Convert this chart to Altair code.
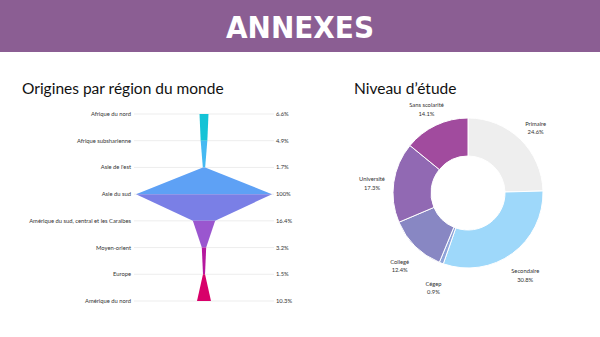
import altair as alt
import pandas as pd

# ---------------- data ----------------
regions = ["Afrique du nord", "Afrique subsharienne", "Asie de l'est", "Asie du sud",
           "Amérique du sud, central et les Caraibes", "Moyen-orient", "Europe",
           "Amérique du nord"]
region_pct = [6.6, 4.9, 1.7, 100, 16.4, 3.2, 1.5, 10.3]
region_pct_labels = ["6.6%", "4.9%", "1.7%", "100%", "16.4%", "3.2%", "1.5%", "10.3%"]
funnel_colors = ["#14C3D6", "#45B9F2", "#5EA1F5", "#7A7FE6", "#9A56CF", "#B5179E", "#D8006A"]

levels = ["Primaire", "Secondaire", "Cégep", "Collegé", "Université", "Sans scolarité"]
level_pct = [24.6, 30.8, 0.9, 12.4, 17.3, 14.1]
level_colors = ["#EEEEEE", "#9ED8FA", "#8EA3D9", "#8887C3", "#9169B3", "#A14B9E"]

# ---------------- tables ----------------
rows = pd.DataFrame({
    "idx": list(range(len(regions))),
    "region": regions,
    "pct": region_pct,
    "label": region_pct_labels,
})

seg_rows = []
for i in range(len(regions) - 1):
    for j in (i, i + 1):
        half = region_pct[j] / 100
        seg_rows.append({"seg": f"s{i}", "y": j, "lo": -half, "hi": half})
segs = pd.DataFrame(seg_rows)

donut = pd.DataFrame({
    "level": levels,
    "pct": level_pct,
    "order": list(range(len(levels))),
    "text": [f"{l}\n{p}%" for l, p in zip(levels, level_pct)],
})

FONT = "Lato"
LBL = 5.8
xs = alt.Scale(domain=[-1, 1], range=[136, 272])
ys = alt.Scale(domain=[0, 7], range=[114, 301])

# header
header = alt.Chart(pd.DataFrame({"t": ["ANNEXES"]})).mark_rect(color="#8B5E93").encode(
    x=alt.value(0), x2=alt.value(600), y=alt.value(0), y2=alt.value(52))
header_txt = alt.Chart(pd.DataFrame({"t": ["ANNEXES"]})).mark_text(
    font="DejaVu Sans Condensed", fontWeight="bold", fontSize=31, color="white",
    align="center", baseline="alphabetic").encode(
    x=alt.value(300), y=alt.value(38), text="t:N")

titles = alt.Chart(pd.DataFrame({
    "t": ["Origines par région du monde", "Niveau d\u2019étude"],
    "px": [22, 354]})).mark_text(
    font=FONT, fontSize=15.5, color="#111111", align="left", baseline="alphabetic").encode(
    x=alt.X("px:Q", scale=None), y=alt.value(94), text="t:N")

# funnel
grid = alt.Chart(rows).mark_rule(color="#EDEDED", strokeWidth=1).encode(
    x=alt.value(134), x2=alt.value(274),
    y=alt.Y("idx:Q", scale=ys, axis=None))

area = alt.Chart(segs).mark_area(orient="horizontal", opacity=1).encode(
    y=alt.Y("y:Q", scale=ys, axis=None),
    x=alt.X("lo:Q", scale=xs, axis=None),
    x2="hi:Q",
    color=alt.Color("seg:N", scale=alt.Scale(domain=[f"s{i}" for i in range(7)],
                                             range=funnel_colors), legend=None),
)

left_lbl = alt.Chart(rows).mark_text(font=FONT, fontSize=LBL, color="#333333",
                                     align="right", baseline="middle").encode(
    x=alt.value(131), y=alt.Y("idx:Q", scale=ys, axis=None), text="region:N")
right_lbl = alt.Chart(rows).mark_text(font=FONT, fontSize=LBL, color="#333333",
                                      align="left", baseline="middle").encode(
    x=alt.value(276), y=alt.Y("idx:Q", scale=ys, axis=None), text="label:N")

# donut
arc = alt.Chart(donut).mark_arc(innerRadius=37, outerRadius=75, stroke="white",
                                strokeWidth=1).encode(
    theta=alt.Theta("pct:Q", stack=True),
    order=alt.Order("order:Q"),
    color=alt.Color("level:N", scale=alt.Scale(domain=levels, range=level_colors),
                    legend=None),
    x=alt.value(468), y=alt.value(193))
arc_lbl = alt.Chart(donut).mark_text(radius=97, font=FONT, fontSize=LBL, color="#333333",
                                     lineBreak="\n", lineHeight=8.5, align="center",
                                     baseline="middle").encode(
    theta=alt.Theta("pct:Q", stack=True),
    order=alt.Order("order:Q"),
    text="text:N",
    x=alt.value(468), y=alt.value(193))

chart = alt.layer(header, header_txt, titles, grid, area, left_lbl, right_lbl, arc, arc_lbl).resolve_scale(
    color="independent", theta="independent"
).properties(
    width=600, height=337, padding=0, autosize=alt.AutoSizeParams(type="none"),
    background="white"
).configure_view(stroke=None)

chart.save("out.html", embed_options={"renderer": "svg", "actions": False})
